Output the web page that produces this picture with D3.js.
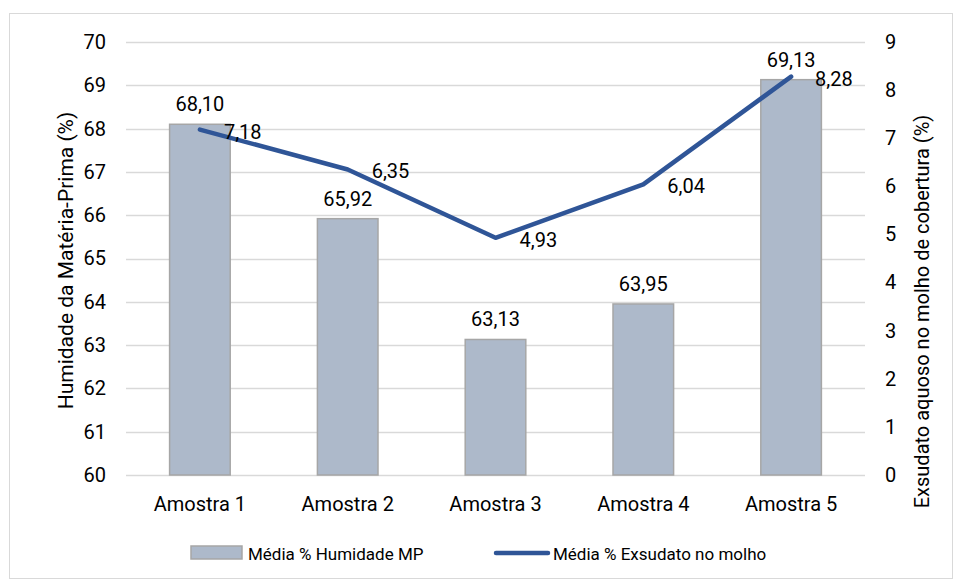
<!DOCTYPE html>
<html lang="pt">
<head>
<meta charset="UTF-8"/>
<title>Humidade vs Exsudato</title>
<script src="https://cdn.jsdelivr.net/npm/d3@7"></script>
<style>
  body { margin: 0; background: #fff; }
  svg text { fill: #000; font-family: "Roboto", sans-serif; }
</style>
</head>
<body>
<svg id="chart" width="955" height="581"></svg>
<script>
// data
var categories = ["Amostra 1", "Amostra 2", "Amostra 3", "Amostra 4", "Amostra 5"];
var humidade   = [68.10, 65.92, 63.13, 63.95, 69.13];   // bars, left axis
var exsudato   = [7.18, 6.35, 4.93, 6.04, 8.28];         // line, right axis
var leftTicks  = [60, 61, 62, 63, 64, 65, 66, 67, 68, 69, 70];
var rightTicks = [0, 1, 2, 3, 4, 5, 6, 7, 8, 9];

var margin = {top: 42, right: 90, bottom: 106, left: 126}
  , width  = 955 - margin.left - margin.right
  , height = 581 - margin.top - margin.bottom;

var svg = d3.select("#chart");

// outer border
svg.append("rect")
    .attr("x", 9.5).attr("y", 13.5)
    .attr("width", 943).attr("height", 565)
    .attr("fill", "none").attr("stroke", "#d9d9d9");

var g = svg.append("g").attr("transform", "translate(" + margin.left + "," + margin.top + ")");

var x  = d3.scaleBand().domain(categories).range([0, width]).paddingInner(0.59).paddingOuter(0.295);
var yL = d3.scaleLinear().domain([60, 70]).range([height, 0]);
var yR = d3.scaleLinear().domain([0, 9]).range([height, 0]);

var fmt = function(v) { return d3.format(".2f")(v).replace(".", ","); };

// grid lines
g.append("g").selectAll("line").data(leftTicks).enter().append("line")
    .attr("x1", 0).attr("x2", width)
    .attr("y1", function(d) { return Math.round(yL(d)) + 0.5; })
    .attr("y2", function(d) { return Math.round(yL(d)) + 0.5; })
    .attr("stroke", "#d9d9d9").attr("stroke-width", 1.5);

// left axis
g.append("g")
    .call(d3.axisLeft(yL).tickValues(leftTicks).tickSize(0).tickPadding(20))
    .call(function(a) { a.select(".domain").remove(); })
    .selectAll("text").style("font-size", "20px");

// right axis
g.append("g")
    .attr("transform", "translate(" + width + ",0)")
    .call(d3.axisRight(yR).tickValues(rightTicks).tickSize(0).tickPadding(20))
    .call(function(a) { a.select(".domain").remove(); })
    .selectAll("text").style("font-size", "20px");

// bottom axis
g.append("g")
    .attr("transform", "translate(0," + height + ")")
    .call(d3.axisBottom(x).tickSize(0).tickPadding(22))
    .call(function(a) { a.select(".domain").remove(); })
    .selectAll("text").style("font-size", "20px");

// bars
g.append("g").selectAll("rect").data(humidade).enter().append("rect")
    .attr("x", function(d, i) { return x(categories[i]); })
    .attr("y", function(d) { return yL(d); })
    .attr("width", x.bandwidth())
    .attr("height", function(d) { return height - yL(d); })
    .attr("fill", "#adb9ca").attr("stroke", "#a6a6a6").attr("stroke-width", 1.5);

// bar labels
g.append("g").selectAll("text").data(humidade).enter().append("text")
    .attr("x", function(d, i) { return x(categories[i]) + x.bandwidth() / 2; })
    .attr("y", function(d) { return yL(d) - 13; })
    .attr("text-anchor", "middle")
    .style("font-size", "20px")
    .text(fmt);

// line
var line = d3.line()
    .x(function(d, i) { return x(categories[i]) + x.bandwidth() / 2; })
    .y(function(d) { return yR(d); });

g.append("path").datum(exsudato)
    .attr("d", line)
    .attr("fill", "none").attr("stroke", "#2f5597").attr("stroke-width", 4.5)
    .attr("stroke-linecap", "round").attr("stroke-linejoin", "round");

// line labels
g.append("g").selectAll("text").data(exsudato).enter().append("text")
    .attr("x", function(d, i) { return x(categories[i]) + x.bandwidth() / 2 + 24; })
    .attr("y", function(d) { return yR(d) + 9; })
    .style("font-size", "20px")
    .text(fmt);

// axis titles
svg.append("text")
    .attr("transform", "translate(73," + (margin.top + height / 2 + 2) + ") rotate(-90)")
    .attr("text-anchor", "middle")
    .style("font-size", "21px")
    .text("Humidade da Matéria-Prima (%)");

svg.append("text")
    .attr("transform", "translate(929," + (margin.top + height / 2 + 53) + ") rotate(-90)")
    .attr("text-anchor", "middle")
    .style("font-size", "20px")
    .text("Exsudato aquoso no molho de cobertura (%)");

// legend
var leg = svg.append("g").attr("transform", "translate(0,553)");
leg.append("rect")
    .attr("x", 191).attr("y", -7).attr("width", 51).attr("height", 13)
    .attr("fill", "#adb9ca").attr("stroke", "#a6a6a6").attr("stroke-width", 1.5);
leg.append("text").attr("x", 248).attr("y", 7).style("font-size", "17px").text("Média % Humidade MP");
leg.append("line")
    .attr("x1", 496).attr("x2", 548).attr("y1", 0).attr("y2", 0)
    .attr("stroke", "#2f5597").attr("stroke-width", 4.5).attr("stroke-linecap", "round");
leg.append("text").attr("x", 553).attr("y", 7).style("font-size", "17px").text("Média % Exsudato no molho");
</script>
</body>
</html>
